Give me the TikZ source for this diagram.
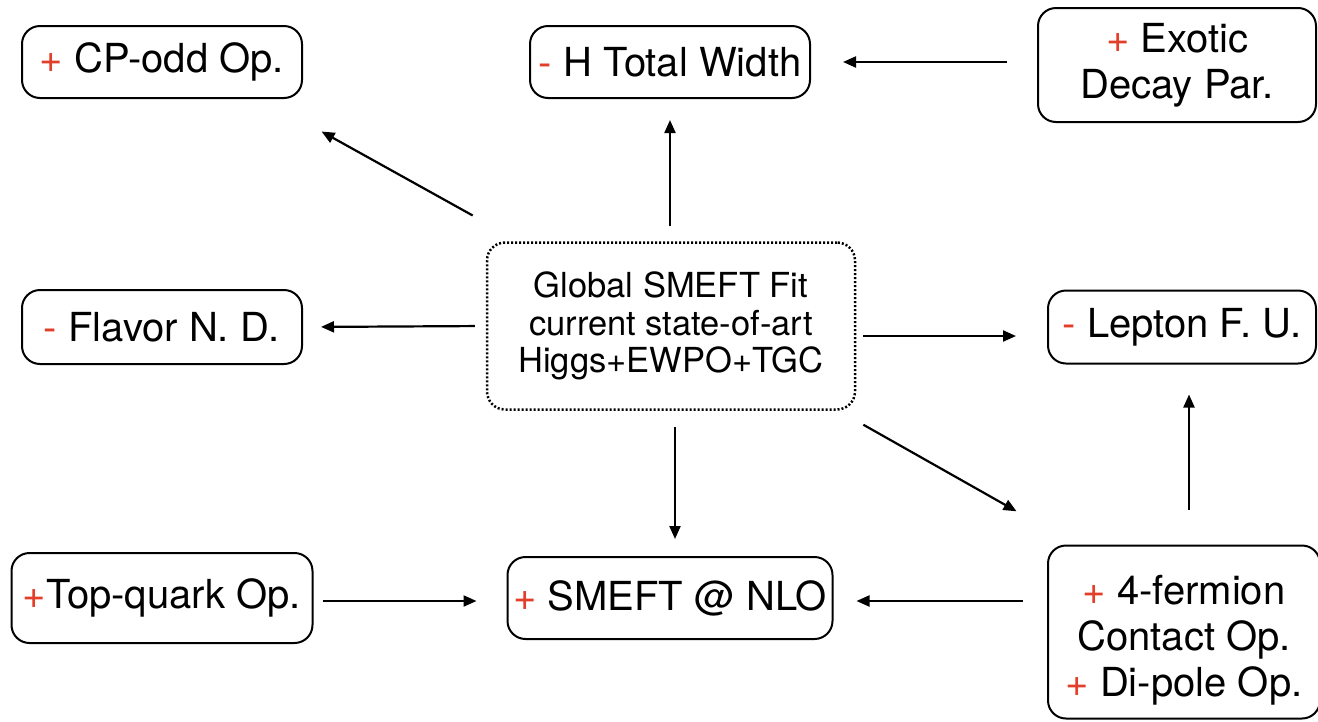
\documentclass[tikz,border=0pt]{standalone}
\usepackage{fontspec}
\setmainfont{TeX Gyre Heros}
\usetikzlibrary{arrows.meta,calc}
\definecolor{plusred}{RGB}{226,62,42}
\newcommand{\pl}{\textcolor{plusred}{+}}
\newcommand{\mi}{\textcolor{plusred}{-}}
\begin{document}
\begin{tikzpicture}[x=1pt,y=-1pt,
  box/.style={draw, line width=2pt, rounded corners=18pt, align=center, inner sep=0pt,
    font=\fontsize{40}{46}\selectfont},
  centerbox/.style={box, dotted, line width=2.5pt, font=\fontsize{34.5}{37.5}\selectfont},
  arr/.style={-{Triangle[length=13pt,width=11pt]}, line width=2.2pt}]
\useasboundingbox[fill=white] (0,0) rectangle (1318,721);

\node[box, minimum width=280pt, minimum height=72pt] (cp) at (162,62) {\pl{} CP-odd Op.};
\node[box, minimum width=280pt, minimum height=72pt] (h) at (670,62) {\mi{} H Total Width};
\node[box, minimum width=278pt, minimum height=114pt] (ex) at (1177,65) {\pl{} Exotic\\Decay Par.};
\node[box, minimum width=280pt, minimum height=74pt] (fl) at (162,327) {\mi{} Flavor N. D.};
\node[centerbox, minimum width=368pt, minimum height=167pt] (c) at (671,326) {Global SMEFT Fit\\current state-of-art\\Higgs+EWPO+TGC};
\node[box, minimum width=268pt, minimum height=73pt] (lep) at (1182,327) {\mi{} Lepton F. U.};
\node[box, minimum width=301pt, minimum height=90pt] (top) at (162,598) {\pl Top-quark Op.};
\node[box, minimum width=325pt, minimum height=82pt] (nlo) at (670,598) {\pl{} SMEFT @ NLO};
\node[box, minimum width=272pt, minimum height=173pt] (ff) at (1184,632) {\rule{0pt}{46pt}\pl{} 4-fermion\\Contact Op.\\\pl{} Di-pole Op.};

\draw[arr, shorten <=15pt, shorten >=21pt] (c.north -| h) -- (h.south);
\draw[arr, shorten <=30pt, shorten >=32pt] (ex.west |- h) -- (h.east);
\draw[arr, shorten <=53pt, shorten >=67pt] (c) -- ([xshift=-40pt]cp.south east);
\draw[arr, shorten <=11pt, shorten >=18pt] (c.west) -- (fl.east);
\draw[arr, shorten <=7pt, shorten >=31pt] ([yshift=-10pt]c.east) -- ([yshift=-10pt]c.east -| lep.west);
\draw[arr, shorten <=16pt, shorten >=17pt] ([xshift=4pt]c.south) -- ([xshift=4pt]c.south |- nlo.north);
\draw[arr, shorten <=221pt, shorten >=35pt] ([yshift=10pt]c.center) -- ([yshift=16pt]ff.north west);
\draw[arr, shorten <=35pt, shorten >=30pt] ([xshift=5pt]ff.north) -- ([xshift=5pt]ff.north |- lep.south);
\draw[arr, shorten <=24pt, shorten >=23pt] ([yshift=-3pt]ff.west |- nlo) -- ([yshift=-3pt]nlo.east);
\draw[arr, shorten <=9pt, shorten >=30pt] ([yshift=-3pt]top.east) -- ([yshift=-3pt]nlo.west);
\end{tikzpicture}
\end{document}
